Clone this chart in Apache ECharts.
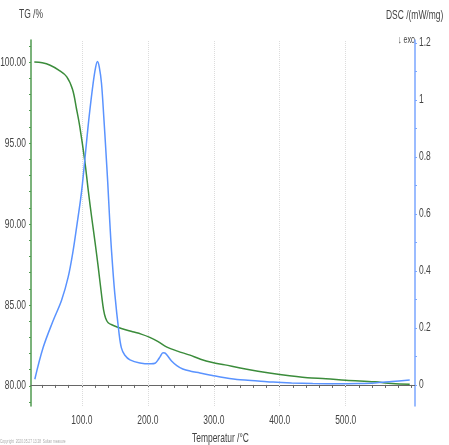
<!DOCTYPE html>
<html>
<head>
<meta charset="utf-8">
<script src="https://cdn.jsdelivr.net/npm/echarts@6/dist/echarts.min.js"></script>
<style>
  html, body { margin: 0; padding: 0; background: #fff; }
  #tgdsc { width: 449px; height: 445px; }
</style>
</head>
<body>
<div id="tgdsc"></div>
<script>
// TG curve (temperature / mass %)
var tgTemp = [28, 40, 52, 65, 77, 86, 92, 97, 104.5, 110, 115, 120, 125, 130, 133, 136, 140, 147, 160, 177, 190, 203, 215, 229, 245, 264, 280, 298, 317, 340, 367, 400, 442, 470, 500, 544, 570, 597]
var tgValue = [100.0, 99.95, 99.8, 99.5, 99.1, 98.3, 97.1, 96.0, 93.9, 92.0, 90.4, 88.9, 87.3, 85.6, 84.7, 84.2, 83.9, 83.75, 83.55, 83.35, 83.2, 83.0, 82.75, 82.4, 82.15, 81.9, 81.65, 81.45, 81.3, 81.1, 80.9, 80.7, 80.5, 80.45, 80.35, 80.25, 80.15, 80.1]

// DSC curve (temperature / mW/mg)
var dscTemp = [28.8, 41.4, 56.5, 69.2, 79.3, 86.9, 92.9, 98, 101, 106, 111.1, 117.2, 121, 123.7, 126.5, 129.8, 133.3, 136.4, 139.4, 142, 145, 150, 156.5, 160, 165, 173, 188, 205, 211, 215, 219, 223, 226, 229, 236, 244, 253, 265, 279, 298, 317, 340, 367, 390, 418, 450, 488, 520, 544, 570, 597]
var dscValue = [0.02, 0.131, 0.225, 0.296, 0.378, 0.472, 0.566, 0.648, 0.706, 0.824, 0.941, 1.059, 1.115, 1.135, 1.115, 1.059, 0.941, 0.824, 0.706, 0.59, 0.472, 0.32, 0.18, 0.13, 0.105, 0.088, 0.077, 0.074, 0.076, 0.086, 0.1, 0.113, 0.112, 0.105, 0.084, 0.068, 0.056, 0.048, 0.042, 0.033, 0.025, 0.018, 0.014, 0.01, 0.007, 0.005, 0.004, 0.005, 0.007, 0.012, 0.017]

// axis ticks / labels
var tempLabels = [100, 200, 300, 400, 500]
var tempTicks = [40, 60, 80, 100, 120, 140, 160, 180, 200, 220, 240, 260, 280, 300, 320, 340, 360, 380, 400, 420, 440, 460, 480, 500, 520, 540, 560, 580, 600]
var tgLabels = [80, 85, 90, 95, 100]
var tgTicks = [79, 80, 81, 82, 83, 84, 85, 86, 87, 88, 89, 90, 91, 92, 93, 94, 95, 96, 97, 98, 99, 100, 101]
var dscLabels = [0, 0.2, 0.4, 0.6, 0.8, 1, 1.2]
var dscTicks = [0, 0.1, 0.2, 0.3, 0.4, 0.5, 0.6, 0.7, 0.8, 0.9, 1, 1.1, 1.2]

// the instrument export uses a condensed font: draw texts squeezed
var FONT = '13px "Liberation Sans", Arial, sans-serif'
var SQ = 0.65
var TXT = '#444'

var chart = echarts.init(document.getElementById('tgdsc'))

function pairs(xs, ys) {
  return xs.map(function (x, i) { return [x, ys[i]] })
}

function txt(str, x, y, align, font, color) {
  return {
    type: 'text', x: x, y: y, scaleX: SQ, silent: true,
    style: { text: str, fill: color || TXT, font: font || FONT, align: align || 'left', verticalAlign: 'middle' }
  }
}

var option = {
  animation: false,
  backgroundColor: '#fff',
  grid: { left: 31, right: 34, top: 40, bottom: 39, outerBoundsMode: 'none' },
  xAxis: {
    type: 'value',
    min: 23,
    max: 605,
    axisLine: { lineStyle: { color: '#666', width: 1 } },
    axisTick: { customValues: tempTicks, length: 3, lineStyle: { color: '#666' } },
    axisLabel: { show: false },
    splitLine: { show: false }
  },
  yAxis: [
    {
      type: 'value',
      min: 78.76,
      max: 101.36,
      position: 'left',
      axisLine: { show: true, lineStyle: { color: '#4f9a4f', width: 1.5 } },
      axisTick: { customValues: tgTicks, length: 2, lineStyle: { color: '#4f9a4f' } },
      axisLabel: { show: false },
      splitLine: { show: false }
    },
    {
      type: 'value',
      min: -0.074,
      max: 1.21,
      position: 'right',
      axisLine: { show: true, lineStyle: { color: '#7aa6ff', width: 1.5 } },
      axisTick: { customValues: dscTicks, length: 2, lineStyle: { color: '#7aa6ff' } },
      axisLabel: { show: false },
      splitLine: { show: false }
    }
  ],
  series: [
    {
      name: 'TG',
      type: 'line',
      yAxisIndex: 0,
      data: pairs(tgTemp, tgValue),
      smooth: 0.35,
      symbol: 'none',
      lineStyle: { color: '#3b8c3b', width: 1.5 },
      z: 3
    },
    {
      name: 'DSC',
      type: 'line',
      yAxisIndex: 1,
      data: pairs(dscTemp, dscValue),
      smooth: 0.35,
      symbol: 'none',
      lineStyle: { color: '#5a93ff', width: 1.5 },
      z: 4,
      markLine: {
        silent: true,
        symbol: 'none',
        label: { show: false },
        lineStyle: { color: '#dcdcdc', type: 'dotted', width: 1 },
        data: tempLabels.map(function (t) { return { xAxis: t } }),
        z: 1
      }
    }
  ]
}
chart.setOption(option)

// tick labels placed from the axes' own scales
var labels = []
tempLabels.forEach(function (t) {
  labels.push(txt(t.toFixed(1), chart.convertToPixel({ xAxisIndex: 0 }, t), 420, 'center'))
})
tgLabels.forEach(function (v) {
  labels.push(txt(v.toFixed(2), 26, chart.convertToPixel({ yAxisIndex: 0 }, v), 'right'))
})
dscLabels.forEach(function (v) {
  labels.push(txt(String(v), 419, chart.convertToPixel({ yAxisIndex: 1 }, v), 'left'))
})
labels.push(txt('TG /%', 19, 14, 'left'))
labels.push(txt('DSC /(mW/mg)', 386, 15, 'left'))
labels.push(txt('\u2193 exo', 398, 40, 'left', '11px "Liberation Sans", Arial, sans-serif'))
labels.push(txt('Temperatur /\u00b0C', 192, 438, 'left'))
labels.push(txt('Copyright  2020.05.27 13:28  Sultan measure', 0, 442, 'left', '5px "Liberation Sans", Arial, sans-serif', '#aaa'))
chart.setOption({ graphic: labels })
</script>
</body>
</html>
